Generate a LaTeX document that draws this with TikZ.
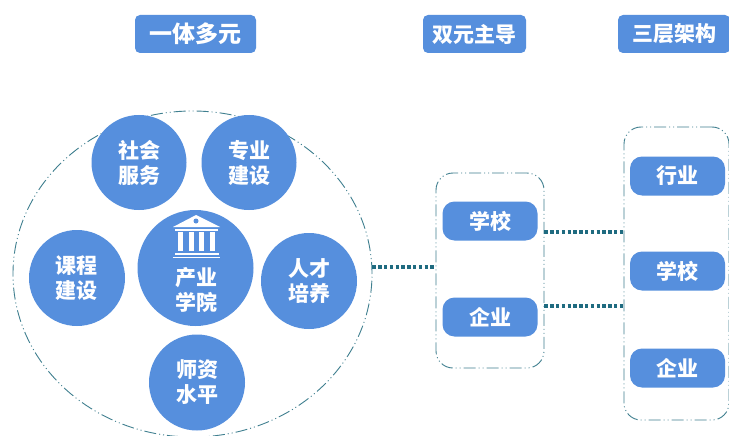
\documentclass[tikz,border=0pt]{standalone}
\usepackage{fontspec}
\newfontfamily\cjk{Noto Sans CJK SC}[Scale=1]
\usetikzlibrary{shapes.geometric}
\definecolor{blu}{HTML}{568FDD}
\definecolor{teal2}{HTML}{1F6B80}
\definecolor{dash2}{HTML}{3F7F8F}
\tikzset{
  x=1pt,y=-1pt,
  ttl/.style={fill=blu,rounded corners=5pt,minimum height=38pt,text=white,font=\cjk\bfseries\fontsize{21}{24}\selectfont,inner sep=0pt},
  item/.style={fill=blu,rounded corners=12pt,minimum width=95pt,minimum height=39pt,text=white,font=\cjk\bfseries\fontsize{21}{24}\selectfont,inner sep=0pt},
  disc/.style={circle,fill=blu,inner sep=0pt,text=white,align=center,font=\cjk\bfseries\fontsize{21}{25}\selectfont},
  frame/.style={draw=dash2,line width=0.9pt,dash pattern=on 12pt off 3pt on 1pt off 3pt on 1pt off 3pt},
  link/.style={draw=teal2,line width=3.2pt,dash pattern=on 3.4pt off 2.4pt},
}
\begin{document}
\begin{tikzpicture}
\useasboundingbox (0,0) rectangle (729,436);
\fill[white] (0,0) rectangle (729,436);
\node[ttl,minimum width=121pt,font=\cjk\bfseries\fontsize{23}{26}\selectfont] (t1) at (195.5,34) {一体多元};
\node[ttl,minimum width=103pt] (t2) at (474.5,34) {双元主导};
\node[ttl,minimum width=112pt] (t3) at (674,34) {三层架构};

\node[frame,ellipse,minimum width=359pt,minimum height=326pt,inner sep=0pt] (big) at (192.5,274) {};
\node[frame,rounded corners=17pt,minimum width=108pt,minimum height=195pt] (mid) at (490,270.5) {};
\node[frame,rounded corners=17pt,minimum width=105pt,minimum height=293pt] (right) at (676.5,273.5) {};

\node[disc,minimum size=95pt] (a) at (139,162.5) {社会\\服务};
\node[disc,minimum size=95pt] (b) at (249,162.5) {专业\\建设};
\node[disc,minimum size=96pt] (c) at (77,278) {课程\\建设};
\node[disc,minimum size=116pt] (d) at (195.5,268) {};
\node[disc,minimum size=96pt] (e) at (309,281) {人才\\培养};
\node[disc,minimum size=96pt] (f) at (197,382.5) {师资\\水平};
\node[text=white,align=center,font=\cjk\bfseries\fontsize{21}{25}\selectfont,inner sep=0pt] (dt) at (196,289.5) {产业\\学院};
% building icon
\begin{scope}
\fill[white] (173,227) -- (196,215) -- (220,227) -- cycle;
\fill[blu] (196,221) circle (2.5);
\fill[white] (175,229) rectangle (218,231);
\foreach \px in {178,188.5,199,209.5} \fill[white] (\px,232) rectangle ++(5,19);
\fill[white] (175,253) rectangle (219,254.5);
\fill[white] (173,256.5) rectangle (220,258);
\end{scope}

\node[item] (s1) at (490,221) {学校};
\node[item] (s2) at (490,317) {企业};
\node[item] (r1) at (677.5,176) {行业};
\node[item] (r2) at (677.5,271) {学校};
\node[item] (r3) at (677.5,368) {企业};

\coordinate (m1) at (mid.west|-0,267);
\coordinate (k1) at (mid.east|-0,232);
\coordinate (k2) at (mid.east|-0,306);
\coordinate (q1) at (right.west|-0,232);
\coordinate (q2) at (right.west|-0,306);
\coordinate (b1) at (big.east|-0,267);
\draw[link] (b1) -- (m1);
\draw[link] (k1) -- (q1);
\draw[link] (k2) -- (q2);
\end{tikzpicture}
\end{document}
